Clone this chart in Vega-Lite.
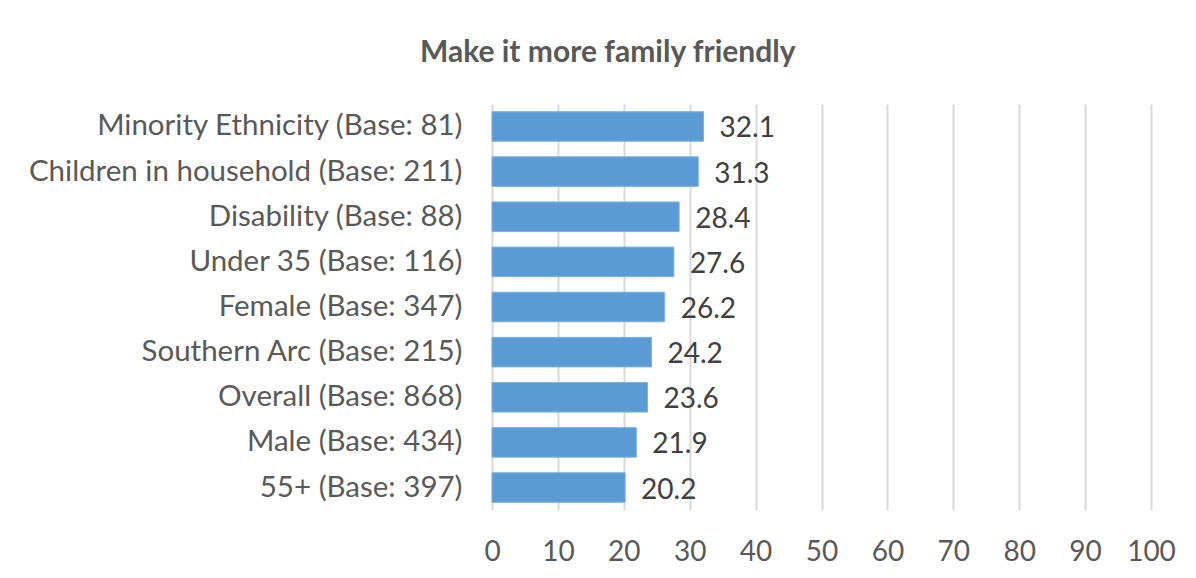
{
  "$schema": "https://vega.github.io/schema/vega-lite/v6.json",
  "autosize": "none",
  "width": 659,
  "height": 406,
  "padding": {"left": 492, "top": 104, "right": 45, "bottom": 68},
  "background": "white",
  "config": {"view": {"stroke": null}, "font": "Lato"},
  "title": {
    "text": "Make it more family friendly",
    "font": "Lato",
    "fontSize": 30,
    "fontWeight": "bold",
    "color": "#595959",
    "anchor": "start",
    "frame": "group",
    "dx": -72,
    "offset": 36
  },
  "data": {
    "values": [
      {"group": "Minority Ethnicity (Base: 81)", "value": 32.1},
      {"group": "Children in household (Base: 211)", "value": 31.3},
      {"group": "Disability (Base: 88)", "value": 28.4},
      {"group": "Under 35 (Base: 116)", "value": 27.6},
      {"group": "Female (Base: 347)", "value": 26.2},
      {"group": "Southern Arc (Base: 215)", "value": 24.2},
      {"group": "Overall (Base: 868)", "value": 23.6},
      {"group": "Male (Base: 434)", "value": 21.9},
      {"group": "55+ (Base: 397)", "value": 20.2}
    ]
  },
  "encoding": {
    "y": {
      "field": "group",
      "type": "nominal",
      "sort": null,
      "scale": {"paddingInner": 0.345, "paddingOuter": 0.17},
      "axis": {
        "title": null,
        "domain": false,
        "ticks": false,
        "labelPadding": 30,
        "labelFont": "Lato",
        "labelFontSize": 29.5,
        "labelColor": "#595959",
        "labelLimit": 600
      }
    },
    "x": {
      "field": "value",
      "type": "quantitative",
      "scale": {"domain": [0, 100], "nice": false},
      "axis": {
        "title": null,
        "values": [0, 10, 20, 30, 40, 50, 60, 70, 80, 90, 100],
        "domain": false,
        "ticks": false,
        "grid": true,
        "gridColor": "#d9d9d9",
        "gridWidth": 2,
        "labelPadding": 28,
        "labelFont": "Lato",
        "labelFontSize": 28,
        "labelColor": "#595959",
        "labelFlush": false
      }
    }
  },
  "layer": [
    {
      "mark": {"type": "bar", "color": "#5B9BD5", "stroke": "#7fb1e0", "strokeWidth": 1}
    },
    {
      "mark": {
        "type": "text",
        "align": "left",
        "baseline": "middle",
        "dx": 16,
        "dy": 3,
        "font": "Lato",
        "fontSize": 28,
        "color": "#404040"
      },
      "encoding": {"text": {"field": "value", "type": "quantitative", "format": ".1f"}}
    }
  ]
}
